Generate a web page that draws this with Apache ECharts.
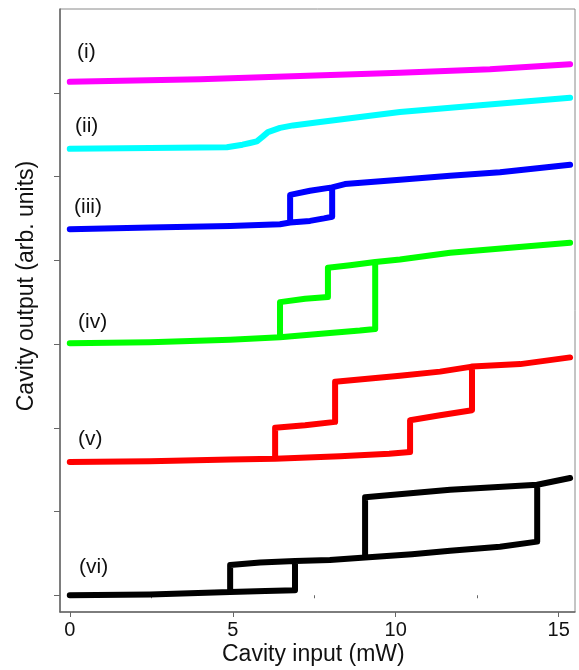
<!DOCTYPE html>
<html>
<head>
<meta charset="utf-8">
<script src="https://cdn.jsdelivr.net/npm/echarts@6/dist/echarts.min.js"></script>
<style>
html,body{margin:0;padding:0;background:#fff;}
#chart{width:579px;height:670px;}
</style>
</head>
<body>
<div id="chart"></div>
<script>
// ---- data (x: cavity input in mW, y: cavity output, arb. units, offset traces) ----
const xTicks = [0, 5, 10, 15];
const xMinorTicks = [2.5, 7.5, 12.5];
const yTicks = [0, 1, 2, 3, 4, 5, 6];
const traceLabels = ['(i)', '(ii)', '(iii)', '(iv)', '(v)', '(vi)'];
const traceColors = ['#ff00ff', '#00ffff', '#0000ff', '#00ff00', '#ff0000', '#000000'];

const traceI = [[0,6.13],[4.0,6.16],[7.06,6.20],[10.13,6.24],[12.89,6.28],[15.35,6.34]];

const traceII = [[0,5.33],[2.46,5.34],[4.0,5.345],[4.82,5.35],[5.3,5.38],[5.53,5.40],[5.74,5.42],[5.90,5.47],
  [6.08,5.53],[6.45,5.58],[6.85,5.61],[7.68,5.65],[10.13,5.77],[12.59,5.85],[15.35,5.94]];

const traceIII = [[0,4.37],[2.46,4.39],[4.92,4.41],[6.45,4.43],[6.76,4.45],[7.37,4.47],[7.8,4.50],[8.05,4.52],
  [8.05,4.87],[8.44,4.91],[10.13,4.96],[11.67,5.01],[13.2,5.05],[15.35,5.14],
  [13.2,5.05],[11.67,5.01],[10.13,4.96],[8.44,4.91],[8.05,4.87],[7.37,4.83],[6.76,4.78],
  [6.76,4.45]];

const traceIV = [[0,3.01],[2.46,3.02],[4.92,3.05],[6.45,3.08],[7.98,3.13],[8.9,3.16],[9.37,3.18],
  [9.37,3.98],[10.13,4.01],[11.67,4.09],[13.51,4.15],[15.35,4.21],
  [13.51,4.15],[11.67,4.09],[10.13,4.01],[9.37,3.98],[8.60,3.94],[7.92,3.91],
  [7.92,3.56],[7.22,3.54],[6.45,3.50],
  [6.45,3.08]];

const traceV = [[0,1.59],[2.46,1.60],[4.92,1.62],[6.30,1.63],[8.29,1.66],[9.8,1.69],[10.44,1.71],
  [10.44,2.09],[11.36,2.15],[12.34,2.21],
  [12.34,2.73],[13.82,2.76],[15.35,2.84],
  [13.82,2.76],[12.34,2.73],[11.36,2.67],[10.13,2.62],[8.14,2.55],
  [8.14,2.07],[7.22,2.03],[6.30,2.00],
  [6.30,1.63]];

const traceVI = [[0,0.0],[2.46,0.01],[4.92,0.04],[6.0,0.05],[6.91,0.06],
  [6.91,0.41],[7.98,0.42],[9.06,0.45],[10.5,0.49],[11.67,0.53],[13.2,0.58],[14.34,0.64],
  [14.34,1.32],[15.35,1.40],
  [14.34,1.32],[11.67,1.26],[9.06,1.17],
  [9.06,0.45],[7.98,0.42],[6.91,0.41],[5.84,0.39],[4.92,0.36],
  [4.92,0.04]];

const traces = [traceI, traceII, traceIII, traceIV, traceV, traceVI];

// ---- chart ----
const chart = echarts.init(document.getElementById('chart'), null, {renderer: 'canvas'});
const FONT = '"Liberation Sans", Arial, Helvetica, sans-serif';
const labelPos = [[77,52],[75,126],[74,207],[78,322],[78,439],[79,567]];

const option = {
  animation: false,
  backgroundColor: '#fff',
  grid: {left: 60, right: 4, top: 9, bottom: 58, show: true, borderColor: '#8a8a8a', borderWidth: 1, backgroundColor: 'transparent'},
  xAxis: [{
    type: 'value', min: -0.3, max: 15.5,
    axisLine: {show: true, onZero: false, lineStyle: {color: '#666', width: 1.5}},
    axisTick: {show: true, customValues: xTicks, length: 5, lineStyle: {color: '#666', width: 1}},
    axisLabel: {show: true, customValues: xTicks, fontSize: 20, color: '#111', fontFamily: FONT, margin: 8},
    splitLine: {show: false}
  }, {
    type: 'value', min: -0.3, max: 15.5, position: 'bottom',
    axisLine: {show: false},
    axisTick: {show: true, customValues: xMinorTicks, length: 3, lineStyle: {color: '#666', width: 1}},
    axisLabel: {show: false},
    splitLine: {show: false}
  }],
  yAxis: {
    type: 'value', min: -0.2, max: 7,
    axisLine: {show: true, onZero: false, lineStyle: {color: '#666', width: 1.5}},
    axisTick: {show: true, customValues: yTicks, length: 6, lineStyle: {color: '#666', width: 1}},
    axisLabel: {show: false},
    splitLine: {show: false}
  },
  graphic: [
    {type: 'text', left: 222, top: 643, style: {text: 'Cavity input (mW)', font: '23px ' + FONT, fill: '#111'}},
    {type: 'text', x: 27, y: 286, rotation: Math.PI / 2,
      style: {text: 'Cavity output (arb. units)', font: '23px ' + FONT, fill: '#111', align: 'center', verticalAlign: 'middle'}}
  ].concat(traceLabels.map((t, i) => ({
    type: 'text', x: labelPos[i][0], y: labelPos[i][1],
    style: {text: t, font: '21px ' + FONT, fill: '#111', align: 'left', verticalAlign: 'middle'}
  }))),
  series: traces.map((d, i) => ({
    type: 'line', name: traceLabels[i], data: d, xAxisIndex: 0,
    showSymbol: false, symbol: 'none', smooth: false,
    lineStyle: {color: traceColors[i], width: 6, join: 'round', cap: 'round'},
    itemStyle: {color: traceColors[i]},
    z: 3
  }))
};
chart.setOption(option);
</script>
</body>
</html>
